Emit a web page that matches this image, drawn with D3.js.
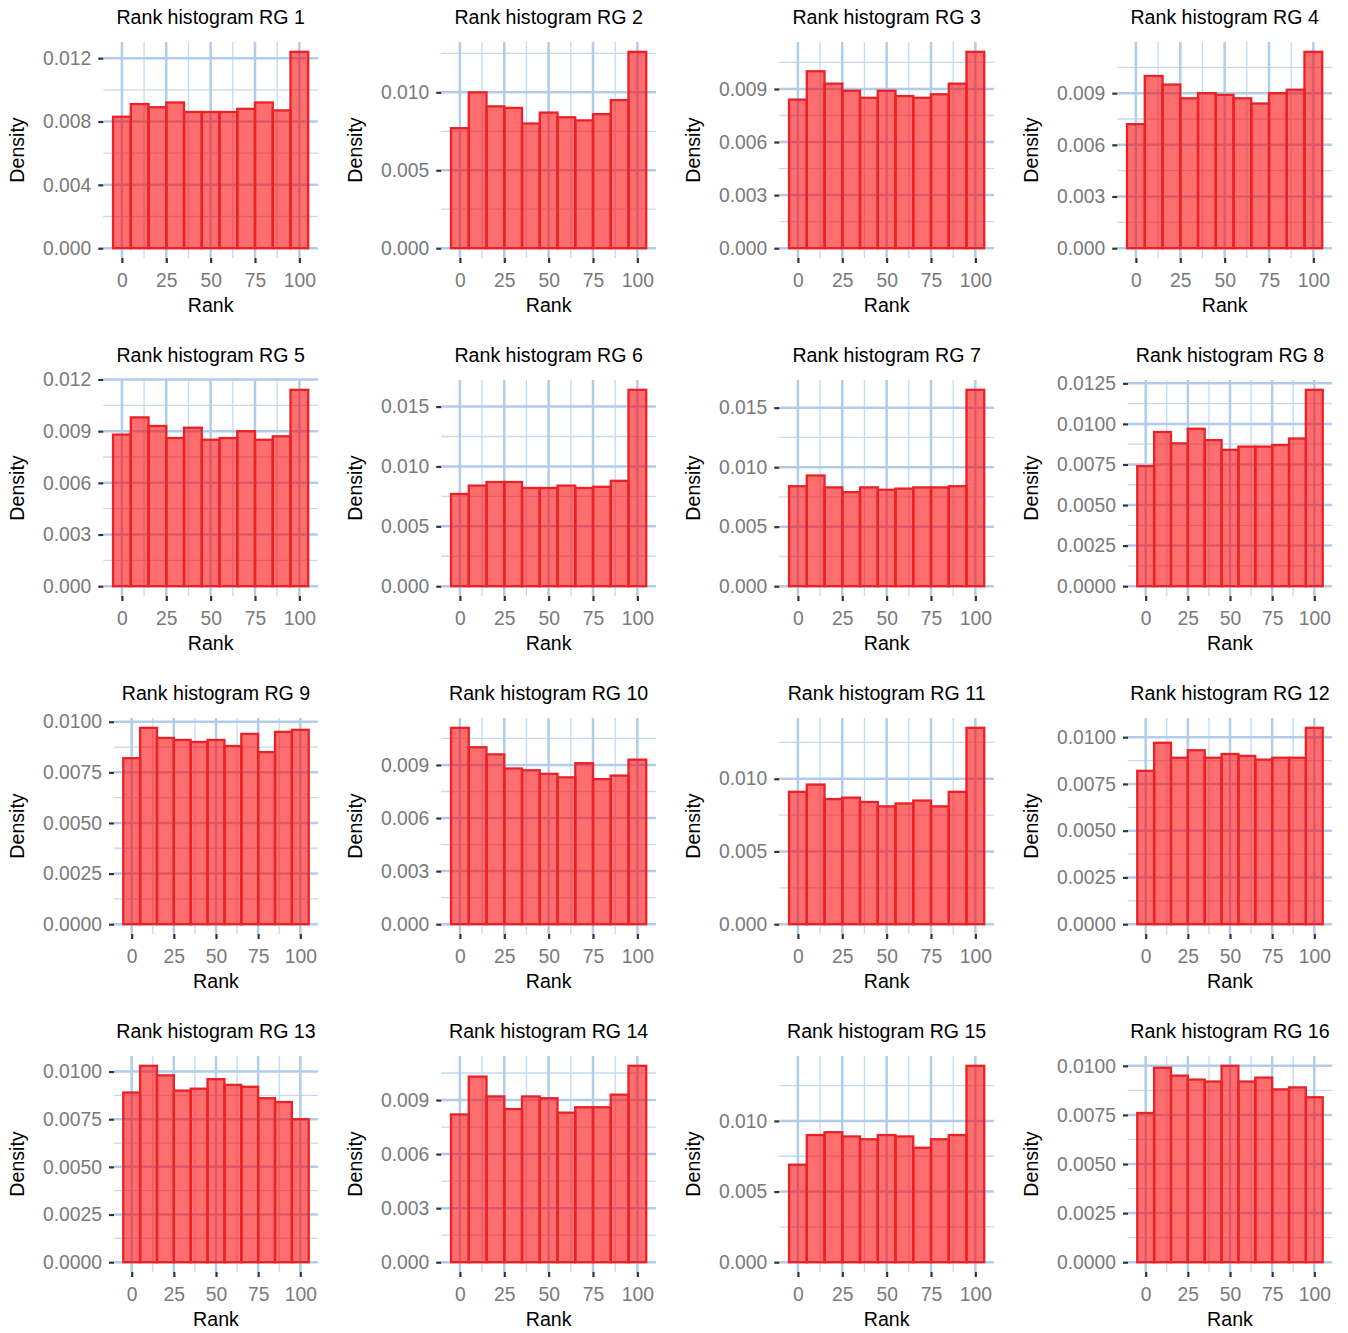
<!DOCTYPE html>
<html>
<head>
<meta charset="utf-8">
<script src="https://cdn.jsdelivr.net/npm/d3@7"></script>
<style>
  body { margin: 0; background: #fff; }
  svg { display: block; font-family: "Liberation Sans", Arial, sans-serif; }
</style>
</head>
<body>
<svg id="chart" width="1348" height="1333"></svg>
<script>
// bin centres (binwidth 10)
const ranks = [0, 10, 20, 30, 40, 50, 60, 70, 80, 90, 100]
const xTicks = [0, 25, 50, 75, 100]

// densities, one array per rain gauge
const rg1  = [0.0083, 0.0091, 0.0089, 0.0092, 0.0086, 0.0086, 0.0086, 0.0088, 0.0092, 0.0087, 0.0124]
const rg2  = [0.0077, 0.0100, 0.0091, 0.0090, 0.0080, 0.0087, 0.0084, 0.0082, 0.0086, 0.0095, 0.0126]
const rg3  = [0.0084, 0.0100, 0.0093, 0.0089, 0.0085, 0.0089, 0.0086, 0.0085, 0.0087, 0.0093, 0.0111]
const rg4  = [0.0072, 0.0100, 0.0095, 0.0087, 0.0090, 0.0089, 0.0087, 0.0084, 0.0090, 0.0092, 0.0114]
const rg5  = [0.0088, 0.0098, 0.0093, 0.0086, 0.0092, 0.0085, 0.0086, 0.0090, 0.0085, 0.0087, 0.0114]
const rg6  = [0.0077, 0.0084, 0.0087, 0.0087, 0.0082, 0.0082, 0.0084, 0.0082, 0.0083, 0.0088, 0.0164]
const rg7  = [0.0084, 0.0093, 0.0083, 0.0079, 0.0083, 0.0081, 0.0082, 0.0083, 0.0083, 0.0084, 0.0165]
const rg8  = [0.0074, 0.0095, 0.0088, 0.0097, 0.0090, 0.0084, 0.0086, 0.0086, 0.0087, 0.0091, 0.0121]
const rg9  = [0.0082, 0.0097, 0.0092, 0.0091, 0.0090, 0.0091, 0.0088, 0.0094, 0.0085, 0.0095, 0.0096]
const rg10 = [0.0111, 0.0100, 0.0096, 0.0088, 0.0087, 0.0085, 0.0083, 0.0091, 0.0082, 0.0084, 0.0093]
const rg11 = [0.0091, 0.0096, 0.0086, 0.0087, 0.0084, 0.0081, 0.0083, 0.0085, 0.0081, 0.0091, 0.0135]
const rg12 = [0.0082, 0.0097, 0.0089, 0.0093, 0.0089, 0.0091, 0.0090, 0.0088, 0.0089, 0.0089, 0.0105]
const rg13 = [0.0089, 0.0103, 0.0098, 0.0090, 0.0091, 0.0096, 0.0093, 0.0092, 0.0086, 0.0084, 0.0075]
const rg14 = [0.0082, 0.0103, 0.0092, 0.0085, 0.0092, 0.0091, 0.0083, 0.0086, 0.0086, 0.0093, 0.0109]
const rg15 = [0.0069, 0.0090, 0.0092, 0.0089, 0.0087, 0.0090, 0.0089, 0.0081, 0.0087, 0.0090, 0.0139]
const rg16 = [0.0076, 0.0099, 0.0095, 0.0093, 0.0092, 0.0100, 0.0092, 0.0094, 0.0088, 0.0089, 0.0084]

// y tick label sets
const ticks4  = ["0.000", "0.004", "0.008", "0.012"]
const ticks5  = ["0.000", "0.005", "0.010"]
const ticks5b = ["0.000", "0.005", "0.010", "0.015"]
const ticks3  = ["0.000", "0.003", "0.006", "0.009"]
const ticks3b = ["0.000", "0.003", "0.006", "0.009", "0.012"]
const ticks25 = ["0.0000", "0.0025", "0.0050", "0.0075", "0.0100"]
const ticks25b = ["0.0000", "0.0025", "0.0050", "0.0075", "0.0100", "0.0125"]

const series = [rg1, rg2, rg3, rg4, rg5, rg6, rg7, rg8, rg9, rg10, rg11, rg12, rg13, rg14, rg15, rg16]
const panelTicks = [ticks4, ticks5, ticks3, ticks3, ticks3b, ticks5b, ticks5b, ticks25b,
                    ticks25, ticks3, ticks5, ticks25, ticks25, ticks3, ticks5, ticks25]

const svg = d3.select("#chart")
const cell = 338
const gridMajor = "#b1cdec"
const gridMinor = "#c4daf1"

// measure the widest y label so the panel starts after it
function textWidth(str) {
    const t = svg.append("text").attr("font-size", 19.3).text(str)
    const w = t.node().getComputedTextLength()
    t.remove()
    return w
}

series.forEach(function (values, i) {
    const col = i % 4
    const row = Math.floor(i / 4)
    const left0 = col * cell
    const top0 = row * cell
    const labels = panelTicks[i]
    const labelW = d3.max(labels, textWidth)

    const pl = left0 + 42 + labelW + 13
    const pr = left0 + 318
    const pt = top0 + 42
    const pb = top0 + 258

    const ymax = d3.max(values)
    const x = d3.scaleLinear().domain([-10.5, 110.5]).range([pl, pr])
    const y = d3.scaleLinear().domain([-0.05 * ymax, 1.05 * ymax]).range([pb, pt])

    const g = svg.append("g")

    // grid
    const yMaj = labels.map(Number)
    const step = yMaj[1] - yMaj[0]
    const yMin = d3.range(-1, yMaj.length).map(k => yMaj[0] + (k + 0.5) * step)
        .filter(v => v >= y.domain()[0] && v <= y.domain()[1])
    const xMin = [-12.5, 12.5, 37.5, 62.5, 87.5, 112.5].filter(v => v >= -10.5 && v <= 110.5)

    g.selectAll(".hmin").data(yMin).enter().append("line")
        .attr("x1", pl).attr("x2", pr)
        .attr("y1", d => y(d)).attr("y2", d => y(d))
        .attr("stroke", gridMinor).attr("stroke-width", 1.3)
    g.selectAll(".vmin").data(xMin).enter().append("line")
        .attr("y1", pt).attr("y2", pb)
        .attr("x1", d => x(d)).attr("x2", d => x(d))
        .attr("stroke", gridMinor).attr("stroke-width", 1.3)
    g.selectAll(".hmaj").data(yMaj).enter().append("line")
        .attr("x1", pl).attr("x2", pr)
        .attr("y1", d => y(d)).attr("y2", d => y(d))
        .attr("stroke", gridMajor).attr("stroke-width", 2.5)
    g.selectAll(".vmaj").data(xTicks).enter().append("line")
        .attr("y1", pt).attr("y2", pb)
        .attr("x1", d => x(d)).attr("x2", d => x(d))
        .attr("stroke", gridMajor).attr("stroke-width", 2.5)

    // bars
    g.selectAll("rect").data(values).enter().append("rect")
        .attr("x", (d, k) => x(ranks[k] - 5))
        .attr("width", (d, k) => x(ranks[k] + 5) - x(ranks[k] - 5))
        .attr("y", d => y(d))
        .attr("height", d => y(0) - y(d))
        .attr("fill", "#ff0000").attr("fill-opacity", 0.57)
        .attr("stroke", "#ea2228").attr("stroke-width", 2.3)

    // y axis
    const ya = g.append("g")
        .attr("transform", `translate(${pl},0)`)
        .call(d3.axisLeft(y).tickValues(yMaj).tickSize(5).tickPadding(7)
            .tickFormat((d, k) => labels[k]))
    ya.select(".domain").remove()
    ya.selectAll(".tick line").attr("stroke", "#333").attr("stroke-width", 2.2)
    ya.selectAll(".tick text").attr("fill", "#7a7a7a").attr("font-size", 19.3)
        .attr("font-family", null)

    // x axis
    const xa = g.append("g")
        .attr("transform", `translate(0,${pb})`)
        .call(d3.axisBottom(x).tickValues(xTicks).tickSize(5).tickPadding(10))
    xa.select(".domain").remove()
    xa.selectAll(".tick line").attr("stroke", "#333").attr("stroke-width", 2.2)
    xa.selectAll(".tick text").attr("fill", "#7a7a7a").attr("font-size", 19.3)
        .attr("font-family", null)

    // titles
    const cx = (pl + pr) / 2
    g.append("text").attr("x", cx).attr("y", top0 + 24)
        .attr("text-anchor", "middle").attr("font-size", 19.6).attr("fill", "#000")
        .text("Rank histogram RG " + (i + 1))
    g.append("text").attr("x", cx).attr("y", top0 + 312)
        .attr("text-anchor", "middle").attr("font-size", 19.6).attr("fill", "#000")
        .text("Rank")
    g.append("text")
        .attr("transform", `translate(${left0 + 24},${(pt + pb) / 2}) rotate(-90)`)
        .attr("text-anchor", "middle").attr("font-size", 19.6).attr("fill", "#000")
        .text("Density")
})
</script>
</body>
</html>
